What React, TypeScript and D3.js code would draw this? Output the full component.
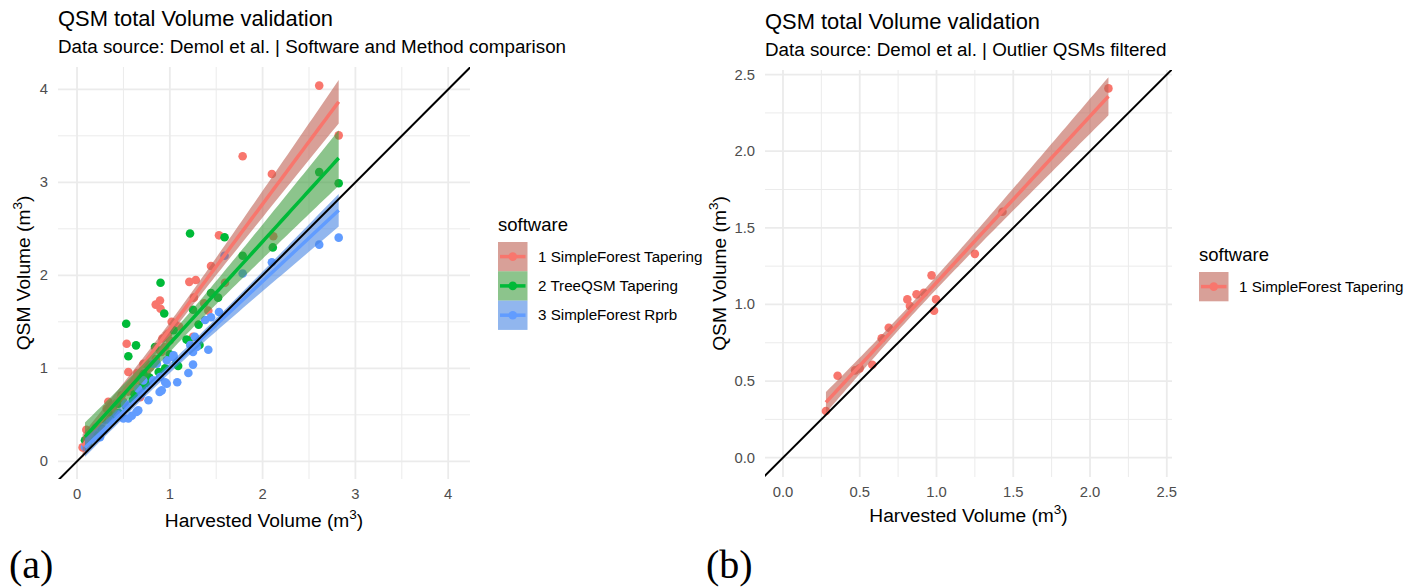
import { useEffect, useRef } from "react"
import * as d3 from "d3"

type Pt = [number, number]

// software labels and ggplot hue colours
const softwareNames = ["1 SimpleForest Tapering", "2 TreeQSM Tapering", "3 SimpleForest Rprb"]
const softwareColors = ["#F8766D", "#00BA38", "#619CFF"]
const bandColors = ["#BE6153", "#3F9D3F", "#4885E3"]

// panel (a): harvested volume vs QSM volume, per software
const sfTapering: Pt[] = [
  [0.06, 0.15], [0.1, 0.34], [0.2, 0.36], [0.32, 0.567], [0.337, 0.64], [0.35, 0.55], [0.39, 0.58],
  [0.42, 0.62], [0.48, 0.71], [0.5, 0.64], [0.535, 1.265], [0.553, 0.96], [0.55, 0.75], [0.59, 0.817],
  [0.6, 0.82], [0.62, 0.78], [0.643, 0.87], [0.65, 0.95], [0.68, 0.69], [0.7, 0.85], [0.715, 1.05],
  [0.75, 0.94], [0.75, 1.05], [0.787, 1.01], [0.848, 1.685], [0.85, 1.1], [0.894, 1.73], [0.894, 1.19],
  [0.9, 1.64], [0.91, 1.175], [0.92, 1.32], [0.95, 1.23], [0.967, 1.355], [0.98, 1.37], [1.0, 1.3],
  [1.02, 1.5], [1.056, 1.47], [1.1, 1.45], [1.21, 1.93], [1.25, 1.34], [1.26, 1.76], [1.28, 1.95],
  [1.37, 1.7], [1.415, 1.62], [1.444, 2.1], [1.53, 2.43], [1.595, 1.92], [1.785, 3.28], [2.1, 3.09],
  [2.115, 2.42], [2.61, 4.04], [2.82, 3.505],
]
const treeqsmTapering: Pt[] = [
  [0.086, 0.226], [0.12, 0.2], [0.15, 0.28], [0.2, 0.28], [0.266, 0.35], [0.3, 0.45], [0.35, 0.5],
  [0.4, 0.47], [0.445, 0.62], [0.45, 0.52], [0.535, 0.58], [0.53, 1.48], [0.553, 1.13], [0.6, 0.66],
  [0.62, 0.72], [0.636, 1.247], [0.65, 0.7], [0.7, 0.8], [0.715, 0.94], [0.75, 0.84], [0.78, 0.9],
  [0.8, 0.86], [0.84, 1.23], [0.88, 0.96], [0.9, 1.92], [0.94, 1.59], [0.95, 1.0], [1.0, 1.15],
  [1.04, 1.41], [1.07, 1.05], [1.09, 1.025], [1.18, 1.31], [1.2, 1.3], [1.218, 2.45], [1.25, 1.63],
  [1.31, 1.47], [1.32, 1.25], [1.444, 1.81], [1.52, 1.76], [1.59, 2.41], [1.785, 2.21], [2.11, 2.3],
  [2.61, 3.11], [2.82, 2.99],
]
const sfRprb: Pt[] = [
  [0.086, 0.154], [0.158, 0.244], [0.248, 0.26], [0.284, 0.333], [0.356, 0.44], [0.427, 0.51],
  [0.5, 0.46], [0.517, 0.62], [0.553, 0.46], [0.59, 0.49], [0.64, 0.53], [0.66, 0.548], [0.66, 0.78],
  [0.697, 0.73], [0.715, 0.87], [0.77, 0.656], [0.82, 0.87], [0.82, 1.05], [0.86, 1.05], [0.89, 0.745],
  [0.894, 0.906], [0.913, 0.763], [0.95, 0.85], [0.967, 0.835], [0.967, 1.086], [1.04, 1.12],
  [1.04, 1.14], [1.08, 0.85], [1.2, 0.95], [1.22, 1.25], [1.25, 1.04], [1.25, 1.175], [1.27, 1.34],
  [1.29, 1.23], [1.38, 1.52], [1.415, 1.2], [1.444, 1.55], [1.53, 1.605], [1.59, 2.21], [1.785, 2.02],
  [2.1, 2.14], [2.61, 2.33], [2.82, 2.405],
]

// panel (b): outlier QSMs filtered
const sfTaperingFiltered: Pt[] = [
  [0.28, 0.305], [0.356, 0.535], [0.47, 0.57], [0.5, 0.583], [0.582, 0.607], [0.643, 0.779], [0.689, 0.848],
  [0.81, 1.033], [0.827, 0.99], [0.87, 1.066], [0.918, 1.076], [0.968, 1.19], [0.984, 0.959],
  [0.997, 1.033], [1.25, 1.33], [1.43, 1.605], [2.12, 2.41],
]

const ticksA = [0, 1, 2, 3, 4]
const minorA = [0.5, 1.5, 2.5, 3.5]
const ticksB = [0, 0.5, 1, 1.5, 2, 2.5]
const minorB = [0.25, 0.75, 1.25, 1.75, 2.25]

const FONT = "'Liberation Sans', Arial, sans-serif"

// t quantile (0.975) via Cornish-Fisher expansion
const tq975 = (df: number) => {
  const z = 1.959964
  return (
    z +
    (z ** 3 + z) / (4 * df) +
    (5 * z ** 5 + 16 * z ** 3 + 3 * z) / (96 * df * df) +
    (3 * z ** 7 + 19 * z ** 5 + 17 * z ** 3 - 15 * z) / (384 * df ** 3)
  )
}

const fitLm = (pts: Pt[]) => {
  const n = pts.length
  const xbar = d3.mean(pts, (d) => d[0]) as number
  const ybar = d3.mean(pts, (d) => d[1]) as number
  const sxx = d3.sum(pts, (d) => (d[0] - xbar) ** 2)
  const sxy = d3.sum(pts, (d) => (d[0] - xbar) * (d[1] - ybar))
  const b = sxy / sxx
  const a = ybar - b * xbar
  const sse = d3.sum(pts, (d) => (d[1] - a - b * d[0]) ** 2)
  const s = Math.sqrt(sse / (n - 2))
  const t = tq975(n - 2)
  const [x0, x1] = d3.extent(pts, (d) => d[0]) as [number, number]
  return d3.range(80).map((i) => {
    const x = x0 + ((x1 - x0) * i) / 79
    const yhat = a + b * x
    const se = s * Math.sqrt(1 / n + (x - xbar) ** 2 / sxx)
    return { x, y: yhat, lo: yhat - t * se, hi: yhat + t * se }
  })
}

interface PanelConfig {
  id: string
  left: number
  top: number
  right: number
  bottom: number
  xDomain: [number, number]
  yDomain: [number, number]
  ticks: number[]
  minor: number[]
  fmt: (v: number) => string
  series: Pt[][]
  subtitle: string
  titleY: number
  subY: number
  xTitleY: number
  yTitleX: number
  tickY: number
  legendX: number
  legendY: number
  tag: string
  tagX: number
}

const panels: PanelConfig[] = [
  {
    id: "a", left: 58, top: 67, right: 470, bottom: 479,
    xDomain: [-0.205, 4.235], yDomain: [-0.19, 4.24],
    ticks: ticksA, minor: minorA, fmt: d3.format("d"),
    series: [sfTapering, treeqsmTapering, sfRprb],
    subtitle: "Data source: Demol et al. | Software and Method comparison",
    titleY: 26, subY: 53, xTitleY: 527, yTitleX: 30, tickY: 499,
    legendX: 498, legendY: 242, tag: "(a)", tagX: 9,
  },
  {
    id: "b", left: 765, top: 70, right: 1172, bottom: 477,
    xDomain: [-0.117, 2.534], yDomain: [-0.126, 2.53],
    ticks: ticksB, minor: minorB, fmt: d3.format(".1f"),
    series: [sfTaperingFiltered],
    subtitle: "Data source: Demol et al. | Outlier QSMs filtered",
    titleY: 29, subY: 56, xTitleY: 522, yTitleX: 726, tickY: 497,
    legendX: 1199, legendY: 272, tag: "(b)", tagX: 706,
  },
]

const App = () => {
  const svgRef = useRef<SVGSVGElement | null>(null)

  useEffect(() => {
    if (!svgRef.current) return
    const svg = d3.select(svgRef.current)
    svg.selectAll("*").remove()

    panels.forEach((p) => {
      const x = d3.scaleLinear().domain(p.xDomain).range([p.left, p.right])
      const y = d3.scaleLinear().domain(p.yDomain).range([p.bottom, p.top])
      const g = svg.append("g")

      svg.append("clipPath").attr("id", `clip-${p.id}`)
        .append("rect").attr("x", p.left).attr("y", p.top)
        .attr("width", p.right - p.left).attr("height", p.bottom - p.top)

      // grid
      const grid = g.append("g")
      grid.selectAll(".mx").data(p.minor).join("line")
        .attr("x1", (d) => x(d)).attr("x2", (d) => x(d)).attr("y1", p.top).attr("y2", p.bottom)
        .attr("stroke", "#EBEBEB").attr("stroke-width", 1)
      grid.selectAll(".my").data(p.minor).join("line")
        .attr("y1", (d) => y(d)).attr("y2", (d) => y(d)).attr("x1", p.left).attr("x2", p.right)
        .attr("stroke", "#EBEBEB").attr("stroke-width", 1)
      grid.selectAll(".Mx").data(p.ticks).join("line")
        .attr("x1", (d) => x(d)).attr("x2", (d) => x(d)).attr("y1", p.top).attr("y2", p.bottom)
        .attr("stroke", "#EBEBEB").attr("stroke-width", 1.8)
      grid.selectAll(".My").data(p.ticks).join("line")
        .attr("y1", (d) => y(d)).attr("y2", (d) => y(d)).attr("x1", p.left).attr("x2", p.right)
        .attr("stroke", "#EBEBEB").attr("stroke-width", 1.8)

      // tick labels
      g.selectAll(".xt").data(p.ticks).join("text")
        .attr("x", (d) => x(d)).attr("y", p.tickY).attr("text-anchor", "middle")
        .attr("font-family", FONT).attr("font-size", 14.8).attr("fill", "#4D4D4D")
        .text((d) => p.fmt(d))
      g.selectAll(".yt").data(p.ticks).join("text")
        .attr("x", p.left - 10).attr("y", (d) => y(d) + 5).attr("text-anchor", "end")
        .attr("font-family", FONT).attr("font-size", 14.8).attr("fill", "#4D4D4D")
        .text((d) => p.fmt(d))

      const plot = g.append("g").attr("clip-path", `url(#clip-${p.id})`)

      // points
      p.series.forEach((pts, i) => {
        plot.append("g").selectAll("circle").data(pts).join("circle")
          .attr("cx", (d) => x(d[0])).attr("cy", (d) => y(d[1])).attr("r", 4.3)
          .attr("fill", softwareColors[i])
      })

      // lm smooth bands and lines
      const area = d3.area<{ x: number; lo: number; hi: number }>()
        .x((d) => x(d.x)).y0((d) => y(d.lo)).y1((d) => y(d.hi))
      const line = d3.line<{ x: number; y: number }>().x((d) => x(d.x)).y((d) => y(d.y))
      p.series.forEach((pts, i) => {
        const fit = fitLm(pts)
        plot.append("path").attr("d", area(fit)).attr("fill", bandColors[i]).attr("fill-opacity", 0.6)
        plot.append("path").attr("d", line(fit)).attr("fill", "none")
          .attr("stroke", softwareColors[i]).attr("stroke-width", 3.5)
      })

      // 1:1 line
      const lo = Math.min(p.xDomain[0], p.yDomain[0]) - 1
      const hi = Math.max(p.xDomain[1], p.yDomain[1]) + 1
      plot.append("line")
        .attr("x1", x(lo)).attr("y1", y(lo)).attr("x2", x(hi)).attr("y2", y(hi))
        .attr("stroke", "#000").attr("stroke-width", 2)

      // titles
      g.append("text").attr("x", p.left).attr("y", p.titleY)
        .attr("font-family", FONT).attr("font-size", 21.9).attr("fill", "#000")
        .text("QSM total Volume validation")
      g.append("text").attr("x", p.left).attr("y", p.subY)
        .attr("font-family", FONT).attr("font-size", 18.8).attr("fill", "#000")
        .text(p.subtitle)

      const xt = g.append("text").attr("x", (p.left + p.right) / 2).attr("y", p.xTitleY)
        .attr("text-anchor", "middle").attr("font-family", FONT).attr("font-size", 19.2).attr("fill", "#000")
      xt.append("tspan").text("Harvested Volume (m")
      xt.append("tspan").attr("dy", -8).attr("font-size", 13.5).text("3")
      xt.append("tspan").attr("dy", 8).text(")")

      const yt = g.append("text")
        .attr("transform", `translate(${p.yTitleX},${(p.top + p.bottom) / 2}) rotate(-90)`)
        .attr("text-anchor", "middle").attr("font-family", FONT).attr("font-size", 19.2).attr("fill", "#000")
      yt.append("tspan").text("QSM Volume (m")
      yt.append("tspan").attr("dy", -8).attr("font-size", 13.5).text("3")
      yt.append("tspan").attr("dy", 8).text(")")

      // legend
      const lg = g.append("g")
      lg.append("text").attr("x", p.legendX).attr("y", p.legendY - 11)
        .attr("font-family", FONT).attr("font-size", 18.5).attr("fill", "#000").text("software")
      p.series.forEach((_, i) => {
        const ky = p.legendY + i * 29.3
        lg.append("rect").attr("x", p.legendX).attr("y", ky).attr("width", 29.5).attr("height", 29.3)
          .attr("fill", bandColors[i]).attr("fill-opacity", 0.6)
        lg.append("line").attr("x1", p.legendX + 2).attr("x2", p.legendX + 27.5)
          .attr("y1", ky + 14.6).attr("y2", ky + 14.6)
          .attr("stroke", softwareColors[i]).attr("stroke-width", 3.5)
        lg.append("circle").attr("cx", p.legendX + 14.75).attr("cy", ky + 14.6).attr("r", 4.3)
          .attr("fill", softwareColors[i])
        lg.append("text").attr("x", p.legendX + 40).attr("y", ky + 19.8)
          .attr("font-family", FONT).attr("font-size", 15.2).attr("fill", "#000")
          .text(softwareNames[i])
      })

      // panel tag
      g.append("text").attr("x", p.tagX).attr("y", 578)
        .attr("font-family", "'Liberation Serif', 'DejaVu Serif', serif").attr("font-size", 40).attr("fill", "#000")
        .text(p.tag)
    })
  }, [])

  return (
    <svg
      ref={svgRef}
      width={1418}
      height={588}
      style={{ position: "absolute", left: 0, top: 0, background: "#fff" }}
    />
  )
}

export default App
